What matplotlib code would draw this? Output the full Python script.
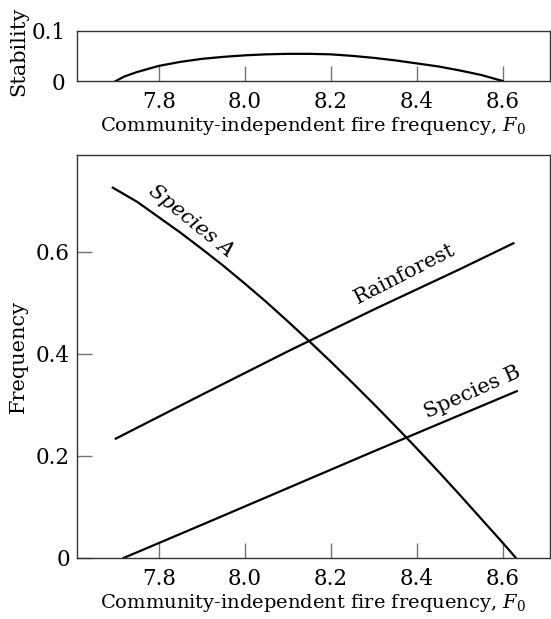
import matplotlib
matplotlib.use('Agg')
import matplotlib.pyplot as plt

plt.rcParams['font.family'] = ['DejaVu Serif']
plt.rcParams['mathtext.fontset'] = 'dejavuserif'

# устойчивость (верхний график)
F_stab = [7.70, 7.72, 7.75, 7.80, 7.85, 7.90, 7.95, 8.00, 8.05, 8.10, 8.15, 8.20,
          8.25, 8.30, 8.35, 8.40, 8.45, 8.50, 8.55, 8.60]
stab = [0.0, 0.009, 0.018, 0.030, 0.038, 0.044, 0.048, 0.051, 0.053, 0.054, 0.054, 0.053,
        0.050, 0.046, 0.041, 0.035, 0.029, 0.021, 0.012, 0.0]

# частоты (нижний график)
F_a = [7.693, 7.75, 7.80, 7.85, 7.90, 7.95, 8.00, 8.05, 8.10, 8.15, 8.20, 8.25,
       8.30, 8.35, 8.40, 8.45, 8.50, 8.55, 8.60, 8.631]
species_a = [0.726, 0.698, 0.668, 0.638, 0.606, 0.573, 0.538, 0.502, 0.464, 0.425, 0.385, 0.344,
             0.302, 0.259, 0.215, 0.170, 0.124, 0.077, 0.030, 0.0]

F_rain = [7.70, 7.90, 8.10, 8.30, 8.50, 8.625]
rainforest = [0.234, 0.320, 0.405, 0.487, 0.566, 0.617]

F_b = [7.718, 7.90, 8.10, 8.30, 8.50, 8.633]
species_b = [0.0, 0.065, 0.137, 0.209, 0.280, 0.327]

xticks = [7.8, 8.0, 8.2, 8.4, 8.6]
xlab = 'Community-independent fire frequency, $F_0$'

W, H = 551, 619
fig = plt.figure(figsize=(W / 100, H / 100), dpi=100)

x0, x1 = 76.7, 549.5
ax1 = fig.add_axes([x0 / W, (H - 81) / H, (x1 - x0) / W, (81 - 30.7) / H])
ax2 = fig.add_axes([x0 / W, (H - 558) / H, (x1 - x0) / W, (558 - 155) / H])

for ax in (ax1, ax2):
    ax.set_xlim(7.609, 8.709)
    ax.set_xticks(xticks)
    ax.set_xticklabels(['%.1f' % v for v in xticks])
    ax.tick_params(direction='in', length=10.5, width=1, color='0.45',
                   labelsize=15.5, pad=7)
    for s in ax.spines.values():
        s.set_color('0.2')
        s.set_linewidth(1.0)
    ax.set_xlabel(xlab, fontsize=14, labelpad=2)

ax1.plot(F_stab, stab, color='k', lw=1.6)
ax1.set_ylim(0, 0.1)
ax1.set_yticks([0, 0.1])
ax1.set_yticklabels(['0', '0.1'])
ax1.tick_params(axis='y', length=0, pad=8)
ax1.set_ylabel('Stability', fontsize=15)
ax1.yaxis.set_label_coords(-0.103, 0.6)

ax2.plot(F_a, species_a, color='k', lw=1.6)
ax2.plot(F_rain, rainforest, color='k', lw=1.6)
ax2.plot(F_b, species_b, color='k', lw=1.6)
ax2.set_ylim(0, 0.79)
ax2.set_yticks([0, 0.2, 0.4, 0.6])
ax2.set_yticklabels(['0', '0.2', '0.4', '0.6'])
ax2.tick_params(axis='y', pad=5)
ax2.set_ylabel('Frequency', fontsize=15)
ax2.yaxis.set_label_coords(-0.103, 0.5)

ax2.text(7.876, 0.661, 'Species A', fontsize=15, style='italic', rotation=-39,
         ha='center', va='center', rotation_mode='anchor')
ax2.text(8.372, 0.556, 'Rainforest', fontsize=15, rotation=27,
         ha='center', va='center', rotation_mode='anchor')
ax2.text(8.53, 0.324, 'Species B', fontsize=15, rotation=24,
         ha='center', va='center', rotation_mode='anchor')

plt.savefig('out.png', dpi=100)
